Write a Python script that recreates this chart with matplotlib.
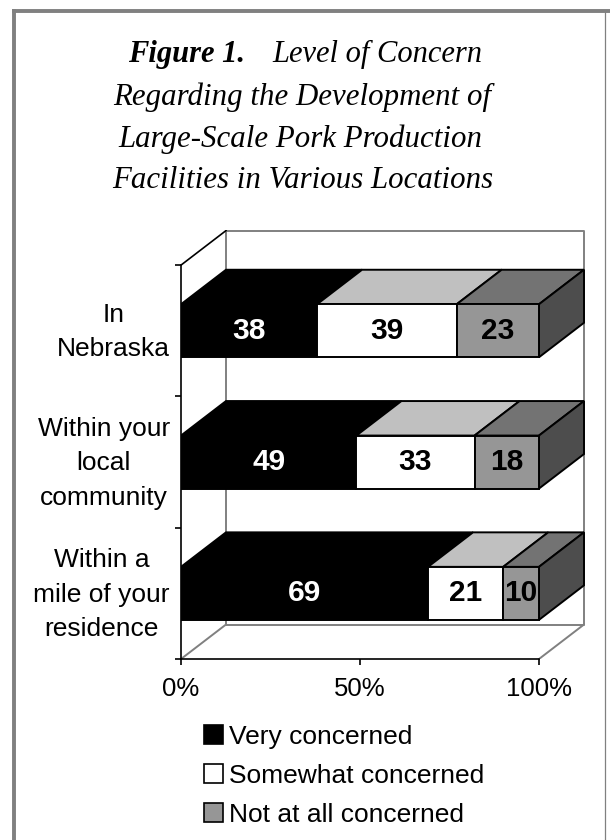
import matplotlib
matplotlib.use("Agg")
import matplotlib.pyplot as plt
from matplotlib.patches import Polygon, Patch, Rectangle

plt.rcParams['font.family'] = ['Liberation Sans', 'DejaVu Sans']

# bottom to top, same order as the axis
categories = ['Within a\nmile of your\nresidence', 'Within your\nlocal\ncommunity', 'In\nNebraska']
very = [69, 49, 38]
somewhat = [21, 33, 39]
not_at_all = [10, 18, 23]

series_names = ['Very concerned', 'Somewhat concerned', 'Not at all concerned']
x_ticks = [0, 50, 100]
x_labels = ['0%', '50%', '100%']

title_lines = ['Regarding the Development of', 'Large-Scale Pork Production', 'Facilities in Various Locations']

W, H = 610, 840
fig = plt.figure(figsize=(W / 100, H / 100), dpi=100)

# outer frame
frame = '#808080'
fig.add_artist(plt.Line2D([14 / W, 14 / W], [-0.01, 1 - 9 / H], color=frame, lw=2.8, solid_capstyle='butt',
                          transform=fig.transFigure))
fig.add_artist(plt.Line2D([12 / W, 1], [1 - 11 / H, 1 - 11 / H], color=frame, lw=2.8, solid_capstyle='butt',
                          transform=fig.transFigure))
fig.add_artist(plt.Line2D([604.5 / W, 604.5 / W], [-0.01, 1 - 11 / H], color=frame, lw=0.9, transform=fig.transFigure))

# plot area in pixels: 0-100 is 181-539, each category 131.3 px from y=659
ax = fig.add_axes([181 / W, 1 - 659 / H, 404 / W, 429 / H])
unit_x = 358 / 100
unit_y = 131.3
ax.set_xlim(0, 404 / unit_x)
ax.set_ylim(0, 429 / unit_y)
ax.patch.set_visible(False)

dx = 45 / unit_x
dy = 34.5 / unit_y
bar_h = 53 / unit_y
y_top = 3

# walls and floor
wall = '#808080'
ax.plot([dx, dx + 100, dx + 100, dx, dx], [dy, dy, y_top + dy, y_top + dy, dy], color=wall, lw=1.4, clip_on=False)
ax.plot([0, dx], [0, dy], color=wall, lw=1.4)
ax.plot([100, 100 + dx], [0, dy], color=wall, lw=1.4)
ax.plot([0, dx], [y_top, y_top + dy], color='black', lw=1.2)

front_colors = ['black', 'white', '#969696']
top_colors = ['black', '#c0c0c0', '#737373']
text_colors = ['white', 'black', 'black']
side_color = '#4d4d4d'

for i in range(len(categories)):
    y0 = i + 0.5 - bar_h / 2
    y1 = y0 + bar_h
    left = 0
    for j, values in enumerate([very, somewhat, not_at_all]):
        v = values[i]
        ax.add_patch(Polygon([(left, y1), (left + v, y1), (left + v + dx, y1 + dy), (left + dx, y1 + dy)],
                             facecolor=top_colors[j], edgecolor='black', lw=1.4, zorder=3))
        ax.add_patch(Rectangle((left, y0), v, bar_h, facecolor=front_colors[j], edgecolor='black', lw=1.4, zorder=4))
        ax.text(left + v / 2, i + 0.5, str(v), color=text_colors[j], fontsize=21.5, fontweight='bold',
                ha='center', va='center', zorder=5)
        left += v
    ax.add_patch(Polygon([(100, y0), (100 + dx, y0 + dy), (100 + dx, y1 + dy), (100, y1)],
                         facecolor=side_color, edgecolor='black', lw=1.4, zorder=3))

for side in ['top', 'right']:
    ax.spines[side].set_visible(False)
ax.spines['left'].set_bounds(0, y_top)
ax.spines['bottom'].set_bounds(0, 100)
ax.spines['left'].set_linewidth(1.2)
ax.spines['bottom'].set_linewidth(1.2)

ax.set_xticks(x_ticks)
ax.set_xticklabels(x_labels, fontsize=18.5)
ax.tick_params(axis='x', length=4, width=1.2, pad=9)
ax.set_yticks([0, 1, 2, 3])
ax.set_yticklabels([])
ax.tick_params(axis='y', which='major', length=4, width=1.2)
# labels sit a little above the middle of each band
ax.set_yticks([0.55, 1.55, 2.55], minor=True)
ax.set_yticklabels(categories, minor=True, fontsize=19, multialignment='center', linespacing=1.55)
ax.tick_params(axis='y', which='minor', length=0, pad=8)

# legend
handles = [Patch(facecolor=c, edgecolor='black', linewidth=1.2) for c in front_colors]
fig.legend(handles, series_names, loc='upper left', bbox_to_anchor=(204 / W, 1 - 725 / H), frameon=False,
           fontsize=19, handlelength=0.72, handleheight=0.72, handletextpad=0.22, labelspacing=0.56,
           borderpad=0, borderaxespad=0)

# title
serif = ['Liberation Serif', 'DejaVu Serif']
fig.text(128 / W, 1 - 62 / H, 'Figure 1.', family=serif, style='italic', fontweight='bold', fontsize=22)
fig.text(272 / W, 1 - 62 / H, 'Level of Concern', family=serif, style='italic', fontsize=22)
for line, cx, base in zip(title_lines, [302, 300, 303], [105, 147, 188]):
    fig.text(cx / W, 1 - base / H, line, family=serif, style='italic', fontsize=22.2, ha='center')

fig.savefig('out.png', dpi=100)
